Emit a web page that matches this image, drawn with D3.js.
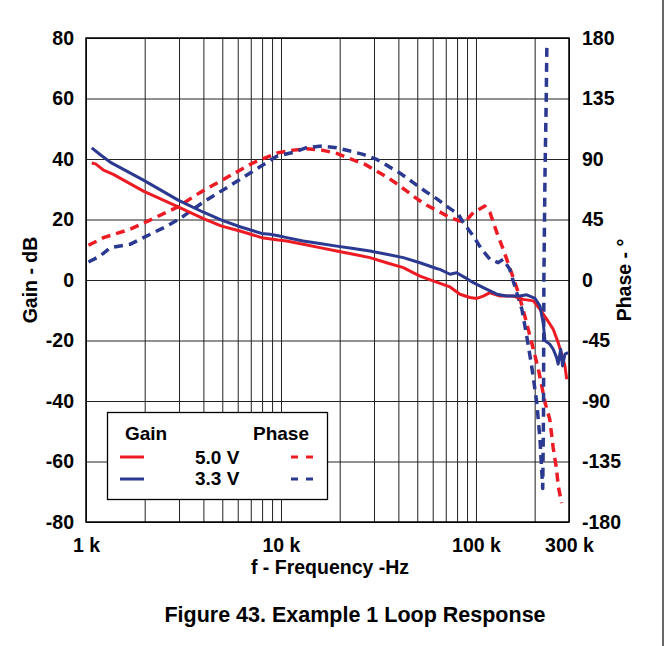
<!DOCTYPE html>
<html>
<head>
<meta charset="utf-8">
<script src="https://cdn.jsdelivr.net/npm/d3@7"></script>
<style>
  html, body { margin: 0; padding: 0; background: #fff; }
  svg { display: block; font-family: "Liberation Sans", Arial, Helvetica, sans-serif; }
</style>
</head>
<body>
<svg id="chart" width="669" height="646"></svg>
<script>
// ---------- DATA (frequency in kHz) ----------
const gain5Freq = [1.07, 1.12, 1.23, 1.38, 1.97, 2.97, 4.0, 4.96, 6.16, 7.96, 9.68, 10.7, 13.0, 15.8, 19.3, 23.5, 28.6, 34.8, 42.4, 51.6, 62.8, 73.6, 82.8, 93.1, 101, 109, 118, 133, 155, 175, 197, 213, 231, 249, 264, 275, 286, 292];
const gain5Db   = [38.7, 38.4, 36.3, 34.9, 29.4, 24.2, 20.3, 17.8, 16.2, 14.0, 13.2, 12.9, 11.8, 10.7, 9.6, 8.5, 7.4, 5.7, 4.1, 1.3, -0.7, -2.3, -4.7, -5.8, -6.1, -5.3, -4.2, -5.3, -5.3, -6.4, -6.9, -9.7, -13.0, -16.3, -20.7, -24.5, -28.4, -32.8];

const gain33Freq = [1.07, 1.18, 1.35, 1.97, 2.97, 4.0, 4.96, 6.16, 7.96, 8.78, 9.68, 10.7, 13.0, 15.8, 19.3, 23.5, 28.6, 34.8, 42.4, 51.6, 62.8, 65.3, 73.6, 79.6, 87.9, 96.9, 109, 128, 144, 168, 182, 201, 213, 221, 226, 239, 249, 259, 264, 272, 278, 286, 297];
const gain33Db   = [43.7, 41.5, 38.7, 33.0, 26.4, 22.4, 19.8, 17.6, 15.4, 15.1, 14.6, 14.0, 12.9, 12.1, 11.2, 10.4, 9.6, 8.5, 7.4, 5.7, 3.8, 3.5, 1.9, 2.4, 0.8, -0.9, -2.5, -4.7, -5.3, -5.3, -4.9, -6.1, -8.6, -14.1, -20.1, -21.2, -22.9, -25.6, -27.8, -22.9, -28.4, -24.5, -24.0];

const phase5Freq = [1.03, 1.23, 1.68, 2.17, 2.92, 3.84, 5.06, 7.21, 9.68, 11.6, 13.5, 16.2, 19.3, 22.6, 27.0, 31.0, 35.5, 40.7, 47.7, 54.7, 64.0, 73.6, 82.8, 89.6, 96.9, 111, 118, 128, 138, 152, 165, 178, 193, 209, 226, 239, 249, 259, 264, 275];
const phase5Deg  = [25.8, 31.5, 37.7, 45.1, 54.0, 65.0, 74.8, 87.2, 94.7, 96.6, 97.6, 96.6, 94.2, 90.2, 86.0, 81.0, 76.0, 70.0, 62.4, 56.3, 51.3, 46.4, 43.9, 44.6, 50.1, 55.0, 50.1, 35.2, 22.8, 5.5, -9.4, -26.8, -46.5, -66.4, -91.1, -103.5, -125.0, -140.7, -153.0, -166.0];

const phase33Freq = [1.03, 1.18, 1.33, 1.68, 1.97, 2.59, 3.03, 4.0, 5.27, 7.21, 9.51, 11.6, 13.5, 16.2, 19.3, 22.6, 26.4, 31.0, 35.5, 41.6, 47.7, 54.7, 62.8, 72.1, 81.1, 86.1, 96.9, 107, 118, 130, 138, 149, 158, 172, 182, 193, 205, 213, 217, 220, 222, 223, 226, 229, 231];
const phase33Deg  = [13.4, 17.8, 24.0, 26.5, 31.5, 40.0, 45.6, 58.0, 68.7, 81.0, 92.0, 95.0, 98.4, 99.6, 98.4, 95.9, 93.4, 89.7, 84.7, 78.6, 72.4, 66.2, 60.5, 54.0, 49.0, 42.7, 32.7, 22.8, 15.4, 12.9, 15.4, 8.0, -4.5, -21.8, -41.6, -63.9, -91.1, -118.4, -140.0, -155.0, -100.0, 0.0, 80.0, 130.0, 174.0];

const gainTicks  = [-80, -60, -40, -20, 0, 20, 40, 60, 80];
const phaseTicks = [-180, -135, -90, -45, 0, 45, 90, 135, 180];
const freqGrid   = [1, 2, 3, 4, 5, 6, 7, 8, 9, 10, 20, 30, 40, 50, 60, 70, 80, 90, 100, 200, 300];
const freqTicks  = [1, 10, 100, 300];
const freqLabels = ["1 k", "10 k", "100 k", "300 k"];

const red = "#ed1c24", blue = "#2b3990";

// ---------- LAYOUT ----------
const L = 86, R = 569, T = 38, B = 522;
const svg = d3.select("#chart");

const x = d3.scaleLog().domain([1, 300]).range([L, R]);
const yG = d3.scaleLinear().domain([-80, 80]).range([B, T]);
const yP = d3.scaleLinear().domain([-180, 180]).range([B, T]);

// right border line of figure
svg.append("line").attr("x1", 663).attr("x2", 663).attr("y1", 0).attr("y2", 646)
  .attr("stroke", "#000").attr("stroke-width", 1.2);

// grid
const grid = svg.append("g").attr("class", "grid");
grid.append("g").attr("transform", `translate(0,${B})`)
  .call(d3.axisBottom(x).tickValues(freqGrid).tickSize(-(B - T)).tickFormat(""))
  .call(g => g.select(".domain").remove())
  .call(g => g.selectAll("line").attr("stroke", "#222").attr("stroke-width", 1));
grid.append("g").attr("transform", `translate(${L},0)`)
  .call(d3.axisLeft(yG).tickValues(gainTicks).tickSize(-(R - L)).tickFormat(""))
  .call(g => g.select(".domain").remove())
  .call(g => g.selectAll("line").attr("stroke", "#222").attr("stroke-width", 1));

// legend box
const lg = svg.append("g");
lg.append("rect").attr("x", 107.5).attr("y", 412.5).attr("width", 220).attr("height", 87)
  .attr("fill", "#fff").attr("stroke", "#000").attr("stroke-width", 1.3);
const lt = (t, xx, yy) => lg.append("text").attr("x", xx).attr("y", yy)
  .attr("font-size", 19).attr("font-weight", "bold").text(t);
lt("Gain", 125, 440);
lt("Phase", 253, 440);
lt("5.0 V", 195, 464);
lt("3.3 V", 195, 485);
lg.append("line").attr("x1", 120).attr("x2", 144).attr("y1", 457).attr("y2", 457).attr("stroke", red).attr("stroke-width", 3);
lg.append("line").attr("x1", 120).attr("x2", 144).attr("y1", 479).attr("y2", 479).attr("stroke", blue).attr("stroke-width", 3);
lg.append("line").attr("x1", 291).attr("x2", 313).attr("y1", 457).attr("y2", 457).attr("stroke", red).attr("stroke-width", 3).attr("stroke-dasharray", "7,8");
lg.append("line").attr("x1", 291).attr("x2", 313).attr("y1", 479).attr("y2", 479).attr("stroke", blue).attr("stroke-width", 3).attr("stroke-dasharray", "7,8");

// plot border
svg.append("rect").attr("x", L).attr("y", T).attr("width", R - L).attr("height", B - T)
  .attr("fill", "none").attr("stroke", "#000").attr("stroke-width", 1.5);

// curves
const mkLine = (ys) => d3.line().x(d => x(d[0])).y(d => ys(d[1]));
const zip = (a, b) => a.map((v, i) => [v, b[i]]);
const curves = svg.append("g");
function draw(fr, vals, ys, color, dashed) {
  curves.append("path").datum(zip(fr, vals))
    .attr("d", mkLine(ys))
    .attr("fill", "none").attr("stroke", color)
    .attr("stroke-width", dashed ? 3.5 : 3)
    .attr("stroke-linejoin", "round")
    .attr("stroke-dasharray", dashed ? "9,6" : null);
}
draw(phase5Freq, phase5Deg, yP, red, true);
draw(phase33Freq, phase33Deg, yP, blue, true);
draw(gain5Freq, gain5Db, yG, red, false);
draw(gain33Freq, gain33Db, yG, blue, false);

// axis labels
const fs = 19.5;
const hy = d => String(d);  // plain hyphen-minus as in the reference
const leftAx = svg.append("g").attr("transform", `translate(${L},0)`)
  .call(d3.axisLeft(yG).tickValues(gainTicks).tickFormat(hy).tickSize(0).tickPadding(12));
const rightAx = svg.append("g").attr("transform", `translate(${R},0)`)
  .call(d3.axisRight(yP).tickValues(phaseTicks).tickFormat(hy).tickSize(0).tickPadding(13));
const botAx = svg.append("g").attr("transform", `translate(0,${B})`)
  .call(d3.axisBottom(x).tickValues(freqTicks).tickFormat((d, i) => freqLabels[i]).tickSize(0).tickPadding(16));
[leftAx, rightAx, botAx].forEach(a => {
  a.select(".domain").remove();
  a.selectAll("text").attr("font-size", fs).attr("font-weight", "bold")
    .attr("font-family", "'Liberation Sans', Arial, sans-serif").attr("fill", "#000");
});

svg.append("text").attr("transform", "translate(37,280) rotate(-90)")
  .attr("text-anchor", "middle").attr("font-size", fs).attr("font-weight", "bold").text("Gain - dB");
svg.append("text").attr("transform", "translate(631,280) rotate(-90)")
  .attr("text-anchor", "middle").attr("font-size", fs).attr("font-weight", "bold").text("Phase - °");
svg.append("text").attr("x", 330).attr("y", 574)
  .attr("text-anchor", "middle").attr("font-size", fs).attr("font-weight", "bold").text("f - Frequency -Hz");
svg.append("text").attr("x", 355).attr("y", 622)
  .attr("text-anchor", "middle").attr("font-size", 21.5).attr("font-weight", "bold").text("Figure 43. Example 1 Loop Response");
</script>
</body>
</html>
